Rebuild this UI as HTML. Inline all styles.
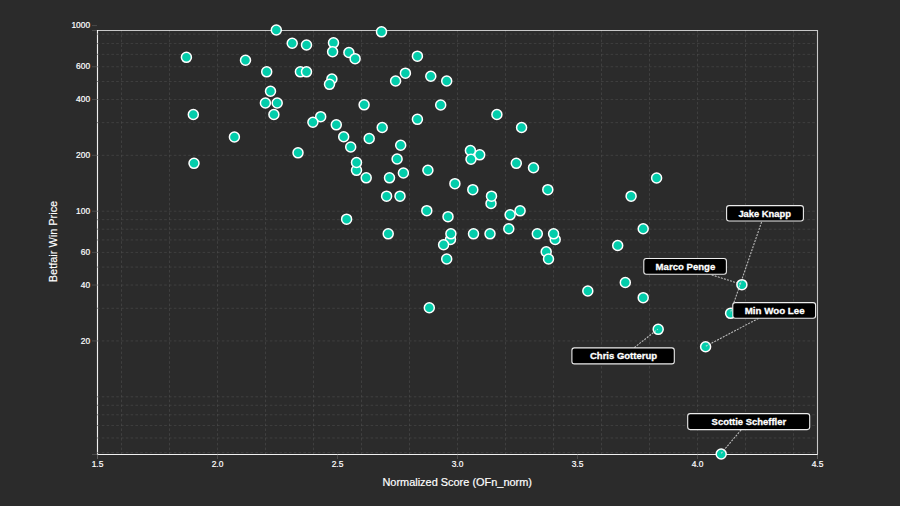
<!DOCTYPE html><html><head><meta charset="utf-8"><style>
html,body{margin:0;padding:0;background:#2b2b2b;width:900px;height:506px;overflow:hidden}
svg{display:block}
text{font-family:"Liberation Sans",sans-serif}
</style></head><body>
<svg width="900" height="506" viewBox="0 0 900 506">
<rect x="0" y="0" width="900" height="506" fill="#2b2b2b"/>

<path d="M97.5,30V454.5H818" fill="none" stroke="#f0f0f0" stroke-width="1.15"/>
<path d="M97,452.67H817M97,437.98H817M97,425.55H817M97,414.79H817M97,405.29H817M97,396.80H817M97,340.93H817M97,308.25H817M97,285.06H817M97,267.07H817M97,252.38H817M97,239.95H817M97,229.19H817M97,219.69H817M97,211.20H817M97,155.33H817M97,122.65H817M97,99.46H817M97,81.47H817M97,66.78H817M97,54.35H817M97,43.59H817M97,34.09H817M121.50,30V454M169.50,30V454M217.50,30V454M265.50,30V454M313.50,30V454M361.50,30V454M409.50,30V454M457.50,30V454M505.50,30V454M553.50,30V454M601.50,30V454M649.50,30V454M697.50,30V454M745.50,30V454M793.50,30V454" stroke="#4c4c4c" stroke-opacity="0.62" stroke-width="1" stroke-dasharray="2.6 2.2" fill="none"/>
<path d="M92,30.5H97M92,454.5H97M97.5,459V454M817.5,459V454M92,340.93H97M92,285.06H97M92,252.38H97M92,211.20H97M92,155.33H97M92,99.46H97M92,66.78H97M92,25.60H97M97.50,454V459M217.50,454V459M337.50,454V459M457.50,454V459M577.50,454V459M697.50,454V459M817.50,454V459" stroke="#888" stroke-opacity="0.35" stroke-width="1" fill="none"/>
<path d="M817.5,454.5V30.5H97" fill="none" stroke="#ffffff" stroke-opacity="0.74" stroke-width="1.1"/>
<text x="90.1" y="344" text-anchor="end" font-size="8.4" fill="#fff" stroke="#fff" stroke-width="0.2">20</text>
<text x="90.1" y="288" text-anchor="end" font-size="8.4" fill="#fff" stroke="#fff" stroke-width="0.2">40</text>
<text x="90.1" y="255" text-anchor="end" font-size="8.4" fill="#fff" stroke="#fff" stroke-width="0.2">60</text>
<text x="90.1" y="214" text-anchor="end" font-size="8.4" fill="#fff" stroke="#fff" stroke-width="0.2">100</text>
<text x="90.1" y="158" text-anchor="end" font-size="8.4" fill="#fff" stroke="#fff" stroke-width="0.2">200</text>
<text x="90.1" y="102" text-anchor="end" font-size="8.4" fill="#fff" stroke="#fff" stroke-width="0.2">400</text>
<text x="90.1" y="69" text-anchor="end" font-size="8.4" fill="#fff" stroke="#fff" stroke-width="0.2">600</text>
<text x="90.1" y="28" text-anchor="end" font-size="8.4" fill="#fff" stroke="#fff" stroke-width="0.2">1000</text>
<text x="97.50" y="467" text-anchor="middle" font-size="8.4" fill="#fff" stroke="#fff" stroke-width="0.2">1.5</text>
<text x="217.50" y="467" text-anchor="middle" font-size="8.4" fill="#fff" stroke="#fff" stroke-width="0.2">2.0</text>
<text x="337.50" y="467" text-anchor="middle" font-size="8.4" fill="#fff" stroke="#fff" stroke-width="0.2">2.5</text>
<text x="457.50" y="467" text-anchor="middle" font-size="8.4" fill="#fff" stroke="#fff" stroke-width="0.2">3.0</text>
<text x="577.50" y="467" text-anchor="middle" font-size="8.4" fill="#fff" stroke="#fff" stroke-width="0.2">3.5</text>
<text x="697.50" y="467" text-anchor="middle" font-size="8.4" fill="#fff" stroke="#fff" stroke-width="0.2">4.0</text>
<text x="817.50" y="467" text-anchor="middle" font-size="8.4" fill="#fff" stroke="#fff" stroke-width="0.2">4.5</text>
<text x="457.2" y="486.0" text-anchor="middle" font-size="11.4" textLength="149.5" lengthAdjust="spacingAndGlyphs" fill="#fff" stroke="#fff" stroke-width="0.2">Normalized Score (OFn_norm)</text>
<text transform="translate(56.5,241.5) rotate(-90)" x="0" y="0" text-anchor="middle" font-size="11" textLength="81.4" lengthAdjust="spacingAndGlyphs" fill="#fff" stroke="#fff" stroke-width="0.15">Betfair Win Price</text>
<circle cx="276.30" cy="30.05" r="5" fill="#03cdab" stroke="#fff" stroke-width="1.5"/>
<circle cx="292.20" cy="43.25" r="5" fill="#03cdab" stroke="#fff" stroke-width="1.5"/>
<circle cx="306.50" cy="45.05" r="5" fill="#03cdab" stroke="#fff" stroke-width="1.5"/>
<circle cx="333.50" cy="42.85" r="5" fill="#03cdab" stroke="#fff" stroke-width="1.5"/>
<circle cx="332.60" cy="51.75" r="5" fill="#03cdab" stroke="#fff" stroke-width="1.5"/>
<circle cx="348.90" cy="52.45" r="5" fill="#03cdab" stroke="#fff" stroke-width="1.5"/>
<circle cx="355.10" cy="58.65" r="5" fill="#03cdab" stroke="#fff" stroke-width="1.5"/>
<circle cx="186.40" cy="57.35" r="5" fill="#03cdab" stroke="#fff" stroke-width="1.5"/>
<circle cx="245.50" cy="60.25" r="5" fill="#03cdab" stroke="#fff" stroke-width="1.5"/>
<circle cx="266.70" cy="71.85" r="5" fill="#03cdab" stroke="#fff" stroke-width="1.5"/>
<circle cx="300.40" cy="71.85" r="5" fill="#03cdab" stroke="#fff" stroke-width="1.5"/>
<circle cx="306.50" cy="71.85" r="5" fill="#03cdab" stroke="#fff" stroke-width="1.5"/>
<circle cx="331.90" cy="78.95" r="5" fill="#03cdab" stroke="#fff" stroke-width="1.5"/>
<circle cx="329.50" cy="84.35" r="5" fill="#03cdab" stroke="#fff" stroke-width="1.5"/>
<circle cx="270.50" cy="91.25" r="5" fill="#03cdab" stroke="#fff" stroke-width="1.5"/>
<circle cx="265.40" cy="103.05" r="5" fill="#03cdab" stroke="#fff" stroke-width="1.5"/>
<circle cx="277.20" cy="103.05" r="5" fill="#03cdab" stroke="#fff" stroke-width="1.5"/>
<circle cx="364.10" cy="104.85" r="5" fill="#03cdab" stroke="#fff" stroke-width="1.5"/>
<circle cx="193.30" cy="114.45" r="5" fill="#03cdab" stroke="#fff" stroke-width="1.5"/>
<circle cx="273.90" cy="114.45" r="5" fill="#03cdab" stroke="#fff" stroke-width="1.5"/>
<circle cx="320.70" cy="116.65" r="5" fill="#03cdab" stroke="#fff" stroke-width="1.5"/>
<circle cx="312.90" cy="122.25" r="5" fill="#03cdab" stroke="#fff" stroke-width="1.5"/>
<circle cx="336.30" cy="124.85" r="5" fill="#03cdab" stroke="#fff" stroke-width="1.5"/>
<circle cx="381.50" cy="31.85" r="5" fill="#03cdab" stroke="#fff" stroke-width="1.5"/>
<circle cx="417.40" cy="56.15" r="5" fill="#03cdab" stroke="#fff" stroke-width="1.5"/>
<circle cx="405.40" cy="73.15" r="5" fill="#03cdab" stroke="#fff" stroke-width="1.5"/>
<circle cx="395.60" cy="80.95" r="5" fill="#03cdab" stroke="#fff" stroke-width="1.5"/>
<circle cx="430.80" cy="76.25" r="5" fill="#03cdab" stroke="#fff" stroke-width="1.5"/>
<circle cx="446.70" cy="80.95" r="5" fill="#03cdab" stroke="#fff" stroke-width="1.5"/>
<circle cx="440.70" cy="105.05" r="5" fill="#03cdab" stroke="#fff" stroke-width="1.5"/>
<circle cx="417.40" cy="119.35" r="5" fill="#03cdab" stroke="#fff" stroke-width="1.5"/>
<circle cx="496.90" cy="114.45" r="5" fill="#03cdab" stroke="#fff" stroke-width="1.5"/>
<circle cx="382.20" cy="127.45" r="5" fill="#03cdab" stroke="#fff" stroke-width="1.5"/>
<circle cx="521.60" cy="127.45" r="5" fill="#03cdab" stroke="#fff" stroke-width="1.5"/>
<circle cx="234.40" cy="136.95" r="5" fill="#03cdab" stroke="#fff" stroke-width="1.5"/>
<circle cx="194.00" cy="163.35" r="5" fill="#03cdab" stroke="#fff" stroke-width="1.5"/>
<circle cx="298.00" cy="152.85" r="5" fill="#03cdab" stroke="#fff" stroke-width="1.5"/>
<circle cx="343.70" cy="136.75" r="5" fill="#03cdab" stroke="#fff" stroke-width="1.5"/>
<circle cx="350.70" cy="147.05" r="5" fill="#03cdab" stroke="#fff" stroke-width="1.5"/>
<circle cx="356.50" cy="170.35" r="5" fill="#03cdab" stroke="#fff" stroke-width="1.5"/>
<circle cx="356.50" cy="162.55" r="5" fill="#03cdab" stroke="#fff" stroke-width="1.5"/>
<circle cx="366.20" cy="177.85" r="5" fill="#03cdab" stroke="#fff" stroke-width="1.5"/>
<circle cx="346.60" cy="219.15" r="5" fill="#03cdab" stroke="#fff" stroke-width="1.5"/>
<circle cx="369.20" cy="138.55" r="5" fill="#03cdab" stroke="#fff" stroke-width="1.5"/>
<circle cx="400.70" cy="145.25" r="5" fill="#03cdab" stroke="#fff" stroke-width="1.5"/>
<circle cx="397.10" cy="159.05" r="5" fill="#03cdab" stroke="#fff" stroke-width="1.5"/>
<circle cx="403.40" cy="172.95" r="5" fill="#03cdab" stroke="#fff" stroke-width="1.5"/>
<circle cx="389.50" cy="177.85" r="5" fill="#03cdab" stroke="#fff" stroke-width="1.5"/>
<circle cx="427.90" cy="170.25" r="5" fill="#03cdab" stroke="#fff" stroke-width="1.5"/>
<circle cx="386.60" cy="196.15" r="5" fill="#03cdab" stroke="#fff" stroke-width="1.5"/>
<circle cx="400.00" cy="196.15" r="5" fill="#03cdab" stroke="#fff" stroke-width="1.5"/>
<circle cx="426.80" cy="210.65" r="5" fill="#03cdab" stroke="#fff" stroke-width="1.5"/>
<circle cx="448.00" cy="216.65" r="5" fill="#03cdab" stroke="#fff" stroke-width="1.5"/>
<circle cx="454.90" cy="183.65" r="5" fill="#03cdab" stroke="#fff" stroke-width="1.5"/>
<circle cx="479.70" cy="154.85" r="5" fill="#03cdab" stroke="#fff" stroke-width="1.5"/>
<circle cx="470.40" cy="150.45" r="5" fill="#03cdab" stroke="#fff" stroke-width="1.5"/>
<circle cx="471.00" cy="159.25" r="5" fill="#03cdab" stroke="#fff" stroke-width="1.5"/>
<circle cx="472.80" cy="189.65" r="5" fill="#03cdab" stroke="#fff" stroke-width="1.5"/>
<circle cx="491.00" cy="203.45" r="5" fill="#03cdab" stroke="#fff" stroke-width="1.5"/>
<circle cx="491.50" cy="196.15" r="5" fill="#03cdab" stroke="#fff" stroke-width="1.5"/>
<circle cx="520.10" cy="210.85" r="5" fill="#03cdab" stroke="#fff" stroke-width="1.5"/>
<circle cx="510.10" cy="214.85" r="5" fill="#03cdab" stroke="#fff" stroke-width="1.5"/>
<circle cx="508.80" cy="228.75" r="5" fill="#03cdab" stroke="#fff" stroke-width="1.5"/>
<circle cx="516.30" cy="163.35" r="5" fill="#03cdab" stroke="#fff" stroke-width="1.5"/>
<circle cx="533.50" cy="167.75" r="5" fill="#03cdab" stroke="#fff" stroke-width="1.5"/>
<circle cx="547.80" cy="189.65" r="5" fill="#03cdab" stroke="#fff" stroke-width="1.5"/>
<circle cx="656.60" cy="178.05" r="5" fill="#03cdab" stroke="#fff" stroke-width="1.5"/>
<circle cx="631.10" cy="196.15" r="5" fill="#03cdab" stroke="#fff" stroke-width="1.5"/>
<circle cx="643.20" cy="228.75" r="5" fill="#03cdab" stroke="#fff" stroke-width="1.5"/>
<circle cx="388.20" cy="233.85" r="5" fill="#03cdab" stroke="#fff" stroke-width="1.5"/>
<circle cx="450.50" cy="239.45" r="5" fill="#03cdab" stroke="#fff" stroke-width="1.5"/>
<circle cx="450.90" cy="233.85" r="5" fill="#03cdab" stroke="#fff" stroke-width="1.5"/>
<circle cx="443.60" cy="244.75" r="5" fill="#03cdab" stroke="#fff" stroke-width="1.5"/>
<circle cx="446.70" cy="259.05" r="5" fill="#03cdab" stroke="#fff" stroke-width="1.5"/>
<circle cx="473.50" cy="233.85" r="5" fill="#03cdab" stroke="#fff" stroke-width="1.5"/>
<circle cx="490.00" cy="233.85" r="5" fill="#03cdab" stroke="#fff" stroke-width="1.5"/>
<circle cx="537.30" cy="233.85" r="5" fill="#03cdab" stroke="#fff" stroke-width="1.5"/>
<circle cx="555.20" cy="239.45" r="5" fill="#03cdab" stroke="#fff" stroke-width="1.5"/>
<circle cx="553.60" cy="233.85" r="5" fill="#03cdab" stroke="#fff" stroke-width="1.5"/>
<circle cx="546.20" cy="251.75" r="5" fill="#03cdab" stroke="#fff" stroke-width="1.5"/>
<circle cx="548.50" cy="259.05" r="5" fill="#03cdab" stroke="#fff" stroke-width="1.5"/>
<circle cx="429.30" cy="307.75" r="5" fill="#03cdab" stroke="#fff" stroke-width="1.5"/>
<circle cx="617.70" cy="245.45" r="5" fill="#03cdab" stroke="#fff" stroke-width="1.5"/>
<circle cx="587.80" cy="291.05" r="5" fill="#03cdab" stroke="#fff" stroke-width="1.5"/>
<circle cx="625.30" cy="282.55" r="5" fill="#03cdab" stroke="#fff" stroke-width="1.5"/>
<circle cx="643.20" cy="297.65" r="5" fill="#03cdab" stroke="#fff" stroke-width="1.5"/>
<circle cx="741.90" cy="284.65" r="5" fill="#03cdab" stroke="#fff" stroke-width="1.5"/>
<circle cx="730.60" cy="313.35" r="5" fill="#03cdab" stroke="#fff" stroke-width="1.5"/>
<circle cx="658.20" cy="329.35" r="5" fill="#03cdab" stroke="#fff" stroke-width="1.5"/>
<circle cx="705.60" cy="346.75" r="5" fill="#03cdab" stroke="#fff" stroke-width="1.5"/>
<circle cx="721.20" cy="453.95" r="5" fill="#03cdab" stroke="#fff" stroke-width="1.5"/>
<path d="M761.6,222L730.3,313.1M711.7,274.9L741.6,284.4M758.5,318.4L705.3,346.5M634.3,347.6L657.9,329.1M741.1,429.9L720.9,453.7" stroke="#dddddd" stroke-opacity="0.8" stroke-width="1.1" stroke-dasharray="2 1.2" fill="none"/>
<rect x="726.60" y="205.60" width="76.80" height="15.40" rx="2.5" fill="#000" stroke="#ececec" stroke-width="1.1"/>
<text x="764.70" y="216.85" text-anchor="middle" font-size="9.8" font-weight="bold" textLength="52.6" lengthAdjust="spacingAndGlyphs" fill="#fff" stroke="#fff" stroke-width="0.3">Jake Knapp</text>
<rect x="643.80" y="258.50" width="82.60" height="15.80" rx="2.5" fill="#000" stroke="#ececec" stroke-width="1.1"/>
<text x="685.45" y="269.75" text-anchor="middle" font-size="9.8" font-weight="bold" textLength="59.7" lengthAdjust="spacingAndGlyphs" fill="#fff" stroke="#fff" stroke-width="0.3">Marco Penge</text>
<rect x="732.80" y="302.60" width="82.80" height="15.70" rx="2.5" fill="#000" stroke="#ececec" stroke-width="1.1"/>
<text x="774.65" y="313.85" text-anchor="middle" font-size="9.8" font-weight="bold" textLength="59.9" lengthAdjust="spacingAndGlyphs" fill="#fff" stroke="#fff" stroke-width="0.3">Min Woo Lee</text>
<rect x="571.90" y="347.90" width="102.40" height="16.00" rx="2.5" fill="#000" stroke="#ececec" stroke-width="1.1"/>
<text x="623.50" y="359.15" text-anchor="middle" font-size="9.8" font-weight="bold" textLength="67.0" lengthAdjust="spacingAndGlyphs" fill="#fff" stroke="#fff" stroke-width="0.3">Chris Gotterup</text>
<rect x="687.70" y="413.60" width="122.00" height="16.00" rx="2.5" fill="#000" stroke="#ececec" stroke-width="1.1"/>
<text x="748.85" y="424.85" text-anchor="middle" font-size="9.8" font-weight="bold" textLength="74.5" lengthAdjust="spacingAndGlyphs" fill="#fff" stroke="#fff" stroke-width="0.3">Scottie Scheffler</text>
</svg></body></html>
